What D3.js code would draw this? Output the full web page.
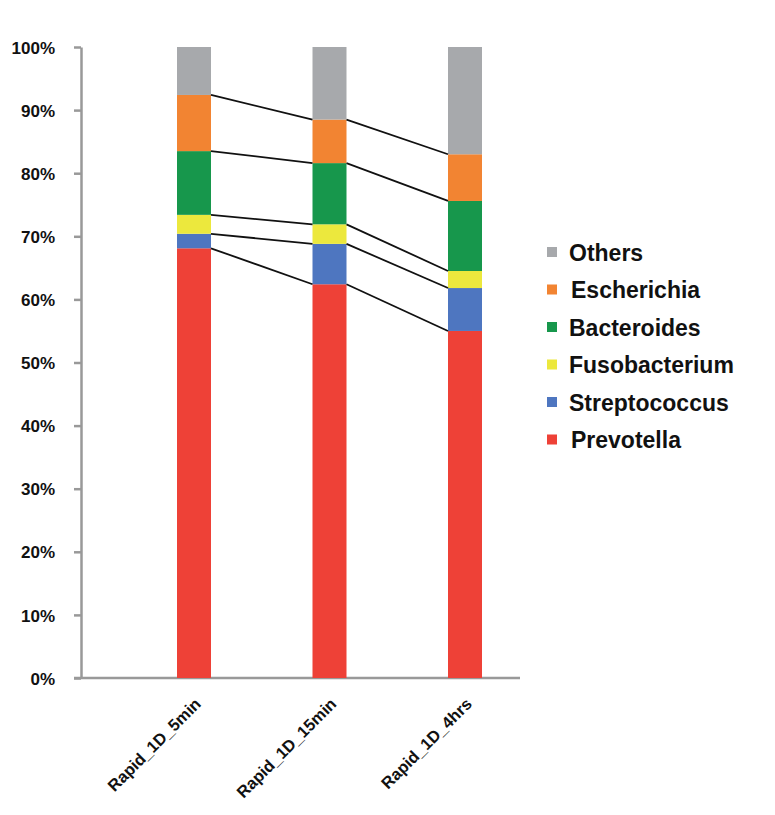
<!DOCTYPE html>
<html>
<head>
<meta charset="utf-8">
<script src="https://cdn.jsdelivr.net/npm/d3@7"></script>
<style>
	body { margin: 0; background: #fff; }
	text { font-family: "Liberation Sans", Arial, sans-serif; font-weight: bold; fill: #111; }
</style>
</head>
<body>
<svg id="chart" width="775" height="815"></svg>
<script>
	// samples along the x axis
	const samples = ["Rapid_1D_5min", "Rapid_1D_15min", "Rapid_1D_4hrs"];
	// stacked bottom -> top
	const genera = ["Prevotella", "Streptococcus", "Fusobacterium", "Bacteroides", "Escherichia", "Others"];
	const colors = ["#ee4137", "#4e76c0", "#ece83d", "#17974c", "#f28432", "#a7a9ac"];
	// percent per genus, one value per sample
	const prevotella = [68.1, 62.4, 55.0];
	const streptococcus = [2.3, 6.4, 6.8];
	const fusobacterium = [3.0, 3.1, 2.7];
	const bacteroides = [10.1, 9.7, 11.1];
	const escherichia = [8.9, 6.9, 7.4];
	const others = [7.6, 11.5, 17.0];
	const yTicks = [0, 10, 20, 30, 40, 50, 60, 70, 80, 90, 100];

	const svg = d3.select("#chart");
	const series = [prevotella, streptococcus, fusobacterium, bacteroides, escherichia, others];

	const table = samples.map((s, i) => {
		const row = { sample: s };
		genera.forEach((g, k) => row[g] = series[k][i]);
		return row;
	});
	const stacked = d3.stack().keys(genera)(table);

	const x = d3.scalePoint().domain(samples).range([194, 465]);
	const y = d3.scaleLinear().domain([0, 100]).range([678, 47]);
	const barW = 34;
	const color = d3.scaleOrdinal().domain(genera).range(colors);

	// y axis
	const yAxis = svg.append("g")
		.attr("transform", "translate(81,0)")
		.call(d3.axisLeft(y).tickValues(yTicks).tickSize(7).tickSizeOuter(0).tickFormat(d => d + "%"));
	yAxis.select(".domain").attr("stroke", "#999").attr("stroke-width", 2.5);
	yAxis.selectAll(".tick line").attr("stroke", "#999").attr("stroke-width", 2.5);
	yAxis.selectAll(".tick text")
		.attr("x", -26)
		.attr("dy", "0.36em")
		.style("font-size", "17px")
		.style("font-family", "'Liberation Sans', Arial, sans-serif")
		.style("font-weight", "bold")
		.attr("fill", "#111");

	// x axis line
	svg.append("line")
		.attr("x1", 74).attr("x2", 520)
		.attr("y1", y(0)).attr("y2", y(0))
		.attr("stroke", "#999").attr("stroke-width", 2.5);

	// bars
	svg.append("g").selectAll("g")
		.data(stacked)
		.join("g")
		.attr("fill", d => color(d.key))
		.selectAll("rect")
		.data(d => d)
		.join("rect")
		.attr("x", d => x(d.data.sample) - barW / 2)
		.attr("y", d => y(d[1]))
		.attr("width", barW)
		.attr("height", d => y(d[0]) - y(d[1]));

	// connector lines between tops of segments (skip Others, it always ends at 100)
	const links = [];
	stacked.slice(0, genera.length - 1).forEach(layer => {
		for (let i = 0; i < layer.length - 1; i++) {
			links.push({
				x1: x(samples[i]) + barW / 2, y1: y(layer[i][1]),
				x2: x(samples[i + 1]) - barW / 2, y2: y(layer[i + 1][1])
			});
		}
	});
	svg.append("g").selectAll("line")
		.data(links)
		.join("line")
		.attr("x1", d => d.x1).attr("y1", d => d.y1)
		.attr("x2", d => d.x2).attr("y2", d => d.y2)
		.attr("stroke", "#111")
		.attr("stroke-width", 1.8);

	// x labels, rotated
	svg.append("g").selectAll("text")
		.data(samples)
		.join("text")
		.attr("transform", d => `translate(${x(d) + 8},${y(0) + 27}) rotate(-45)`)
		.attr("text-anchor", "end")
		.style("font-size", "16.5px")
		.text(d => d);

	// legend, top item is Others
	const legend = svg.append("g").attr("transform", "translate(547,253)");
	const items = genera.slice().reverse();
	const row = legend.selectAll("g")
		.data(items)
		.join("g")
		.attr("transform", (d, i) => `translate(0,${i * 37.5})`);
	row.append("rect")
		.attr("x", 0).attr("y", -6)
		.attr("width", 10).attr("height", 10)
		.attr("fill", d => color(d));
	row.append("text")
		.attr("x", d => d === "Escherichia" || d === "Prevotella" ? 24 : 22)
		.attr("y", 0)
		.attr("dy", "0.34em")
		.style("font-size", "23px")
		.text(d => d);
</script>
</body>
</html>
